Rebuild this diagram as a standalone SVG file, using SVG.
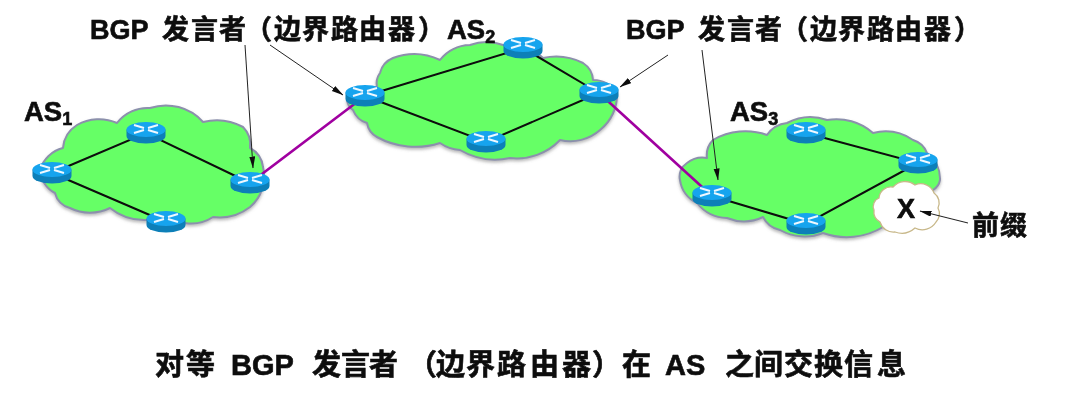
<svg xmlns="http://www.w3.org/2000/svg" width="1065" height="405" viewBox="0 0 1065 405">
<style>
.cloud{fill:#66ff66;stroke:#8c90ac;stroke-width:2;stroke-linejoin:round;filter:url(#sh)}
.link{stroke:#0c0c0c;stroke-width:2;fill:none}
.peer{stroke:#a000a0;stroke-width:2.6;fill:none}
.call{stroke:#222;stroke-width:1;fill:none;marker-end:url(#ah)}
text{font-family:"Liberation Sans","Noto Sans CJK SC",sans-serif;font-weight:700;fill:#0a0a0a;stroke:#0a0a0a;stroke-width:.6px}
.lab{font-size:27px}
.bot{font-size:29px}
.as{font-size:27.500px}
.sub{font-size:18px}
</style>
<defs>
<filter id="sh" x="-5%" y="-5%" width="110%" height="115%"><feDropShadow dx="0" dy="2" stdDeviation="1.5" flood-color="#777" flood-opacity=".5"/></filter>
<filter id="soft" x="0" y="0" width="100%" height="100%" filterUnits="userSpaceOnUse"><feGaussianBlur stdDeviation="0.45"/></filter>
<marker id="ah" markerWidth="12" markerHeight="7" refX="11.500" refY="3" orient="auto" markerUnits="userSpaceOnUse"><path d="M0 0L12 3L0 6Z" fill="#111"/></marker>
<g id="router">
<path d="M-19.500 -3.500V3A19.500 7.500 0 0 0 19.500 3V-3.500Z" fill="#0b7fb8"/>
<ellipse cx="0" cy="-3.500" rx="19.500" ry="7.500" fill="#16a4ee"/>
<path d="M-12 -8L-2 -5M-2 -3L-12 0M12 -8L2 -5M2 -3L12 0" stroke="#eef8ff" stroke-width="2" fill="none"/>
</g>
</defs>
<g filter="url(#soft)">
<g id="as1-cloud"><path class="cloud" d="M63 148A30 30 0 0 1 77 125A45 45 0 0 1 117 123A38 38 0 0 1 150 108A50 50 0 0 1 203 122A55 55 0 0 1 243 127A25 25 0 0 1 250 148A25 25 0 0 1 263 167A40 40 0 0 1 250 207A50 50 0 0 1 213 217A40 40 0 0 1 185 223A55 55 0 0 1 147 220A55 55 0 0 1 110 208A45 45 0 0 1 70 208A20 20 0 0 1 55 193A28 28 0 0 1 40 170A32 32 0 0 1 63 148Z"/></g>
<g id="as2-cloud"><path class="cloud" d="M380 73A22 22 0 0 1 393 58A60 60 0 0 1 440 60A40 40 0 0 1 470 45A50 50 0 0 1 503 45A50 50 0 0 1 543 58A60 60 0 0 1 583 63A22 22 0 0 1 593 80A28 28 0 0 1 617 93A45 45 0 0 1 600 130A45 45 0 0 1 560 140A60 60 0 0 1 510 158A70 70 0 0 1 460 150A40 40 0 0 1 440 143A80 80 0 0 1 377 137A20 20 0 0 1 367 123A22 22 0 0 1 353 110A14 14 0 0 1 347 100A35 35 0 0 1 377 87A18 18 0 0 1 380 73Z"/></g>
<g id="as3-cloud"><path class="cloud" d="M707 158A22 22 0 0 1 713 140A65 65 0 0 1 767 135A28 28 0 0 1 787 123A50 50 0 0 1 827 120A55 55 0 0 1 873 133A50 50 0 0 1 913 140A22 22 0 0 1 927 153A32 32 0 0 1 940 180A15 15 0 0 1 933 190A70 70 0 0 1 883 227A70 70 0 0 1 823 233A50 50 0 0 1 780 230A25 25 0 0 1 763 217A45 45 0 0 1 727 218A40 40 0 0 1 697 203A30 30 0 0 1 680 180A16 16 0 0 1 687 163A25 25 0 0 1 707 158Z"/></g>
<g id="connectors">
<path class="link" d="M52 173L146 133L250 183M52 173L166 222"/>
<path class="link" d="M365 96L523 48L599 93L486 142L365 96"/>
<path class="link" d="M712 196L806 224L918 163L806 133"/>
<path class="peer" d="M250 183L365 96M599 93L712 196"/>
<path class="call" d="M245 45L253 168"/>
<path class="call" d="M270 45L343 95"/>
<path class="call" d="M668 55L620 87"/>
<path class="call" d="M702 50L718 180"/>
</g>
<g id="x-cloud"><path d="M879 198A12 12 0 0 1 893 187A16 16 0 0 1 915 185A14 14 0 0 1 934 193A12 12 0 0 1 938 208A12 12 0 0 1 936 222A16 16 0 0 1 915 228A20 20 0 0 1 895 232A14 14 0 0 1 880 222A12 12 0 0 1 874 210A9 9 0 0 1 879 198Z" fill="#fff" stroke="#c8b88a" stroke-width="1.300"/>
<text x="906" y="218" font-size="27" text-anchor="middle">X</text></g>
<path class="call" d="M968 223L920 211"/>
<g id="r-a1"><use href="#router" x="52" y="173"/></g>
<g id="r-a2"><use href="#router" x="146" y="133"/></g>
<g id="r-a3"><use href="#router" x="250" y="183"/></g>
<g id="r-a4"><use href="#router" x="166" y="222"/></g>
<g id="r-b1"><use href="#router" x="365" y="96"/></g>
<g id="r-b2"><use href="#router" x="523" y="48"/></g>
<g id="r-b3"><use href="#router" x="599" y="93"/></g>
<g id="r-b4"><use href="#router" x="486" y="142"/></g>
<g id="r-c1"><use href="#router" x="712" y="196"/></g>
<g id="r-c2"><use href="#router" x="806" y="133"/></g>
<g id="r-c3"><use href="#router" x="918" y="163"/></g>
<g id="r-c4"><use href="#router" x="806" y="224"/></g>
<text class="as" x="24" y="121">AS<tspan class="sub" dy="4">1</tspan></text>
<text class="as" x="447" y="39">AS<tspan class="sub" dy="4">2</tspan></text>
<text class="as" x="730" y="121">AS<tspan class="sub" dy="4">3</tspan></text>
<text class="lab" y="39"><tspan x="90">BGP</tspan> <tspan x="162 191 219 245 274 302 331 359 388 418">发言者（边界路由器）</tspan></text>
<text class="lab" y="39"><tspan x="626">BGP</tspan> <tspan x="698 727 755 781 810 838 867 895 924 954">发言者（边界路由器）</tspan></text>
<text class="lab" y="235" x="972 1000">前缀</text>
<text class="bot" y="375"><tspan x="155 186">对等</tspan> <tspan x="231">BGP</tspan> <tspan x="312 341 369 408 436 466 497 530 562 592 622">发言者（边界路由器）在</tspan> <tspan x="665">AS</tspan> <tspan x="725 754 784 814 844 877">之间交换信息</tspan></text>
</g>
</svg>
